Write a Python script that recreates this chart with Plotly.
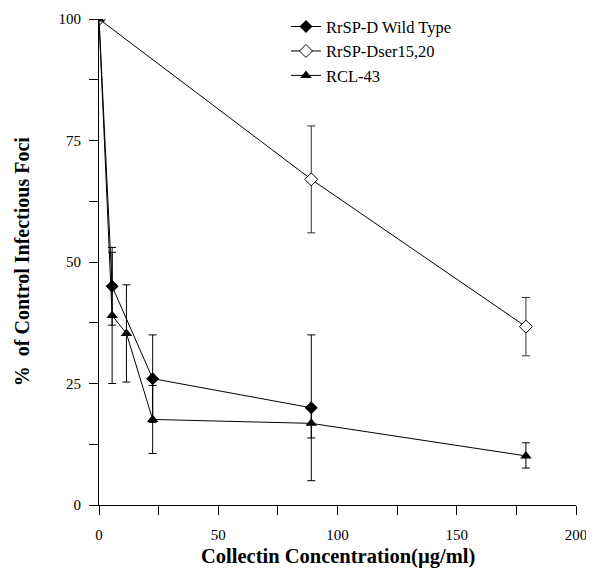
import plotly.graph_objects as go

# Data
wt_x = [0, 5.5, 22.5, 89]
wt_y = [100, 45, 26, 20]
wt_err = [0, 8, 9, 15]

ser_x = [0, 89, 179]
ser_y = [100, 67, 36.7]
ser_err = [0, 11, 6]

rcl_x = [0, 5.5, 11.5, 22.5, 89, 179]
rcl_y = [100, 39, 35.3, 17.6, 16.8, 10.1]
rcl_err_plus = [0, 13, 10, 7, 3, 2.7]
rcl_err_minus = [0, 14, 10, 7, 3, 2.5]

x_ticks = [0, 50, 100, 150, 200]
y_ticks = [0, 25, 50, 75, 100]

serif = "Liberation Serif, Times New Roman, Times, serif"

fig = go.Figure()
fig.add_trace(go.Scatter(
    x=wt_x, y=wt_y, name="RrSP-D Wild Type", mode="lines+markers",
    line=dict(color="black", width=1),
    marker=dict(symbol="diamond", size=10, color="black"),
    error_y=dict(type="data", array=wt_err, color="black", thickness=1, width=4),
))
fig.add_trace(go.Scatter(
    x=ser_x, y=ser_y, name="RrSP-Dser15,20", mode="lines+markers",
    line=dict(color="black", width=1),
    marker=dict(symbol="diamond", size=10, color="white", line=dict(color="black", width=1)),
    error_y=dict(type="data", array=ser_err, color="#333", thickness=1, width=4),
))
fig.add_trace(go.Scatter(
    x=rcl_x, y=rcl_y, name="RCL-43", mode="lines+markers",
    line=dict(color="black", width=1),
    marker=dict(symbol="triangle-up", size=10, color="black"),
    error_y=dict(type="data", array=rcl_err_plus, arrayminus=rcl_err_minus,
                 color="black", thickness=1, width=4),
))

fig.update_layout(
    width=586, height=566,
    margin=dict(l=91, r=18, t=11, b=69, autoexpand=False),
    paper_bgcolor="white", plot_bgcolor="white",
    font=dict(family=serif, color="black", size=14),
    showlegend=True,
    legend=dict(x=0.392, y=1.02, xanchor="left", yanchor="top",
                font=dict(family=serif, size=16.5, color="black"),
                bgcolor="rgba(0,0,0,0)", itemwidth=30, tracegroupgap=0),
    xaxis=dict(
        range=[0, 200], tickvals=x_ticks, ticktext=[str(v) for v in x_ticks],
        showline=True, linecolor="black", linewidth=1,
        ticks="outside", ticklen=9, tickcolor="black",
        minor=dict(dtick=25, ticks="outside", ticklen=9, tickcolor="black"),
        showgrid=False, zeroline=False, automargin=False,
        tickfont=dict(family=serif, size=15), ticklabelstandoff=7,
    ),
    yaxis=dict(
        range=[0, 100], tickvals=y_ticks, ticktext=[str(v) for v in y_ticks],
        showline=True, linecolor="black", linewidth=1,
        ticks="outside", ticklen=9, tickcolor="black",
        minor=dict(dtick=12.5, ticks="outside", ticklen=9, tickcolor="black"),
        showgrid=False, zeroline=False, automargin=False,
        tickfont=dict(family=serif, size=15), ticklabelstandoff=5,
    ),
    annotations=[
        dict(text="<b>Collectin Concentration(µg/ml)</b>", xref="paper", yref="paper",
             x=0.5, y=-0.078, xanchor="center", yanchor="top", showarrow=False,
             font=dict(family=serif, size=20.5, color="black")),
        dict(text="<b>%  of Control Infectious Foci</b>", xref="paper", yref="paper",
             x=-0.161, y=0.5, xanchor="center", yanchor="middle", showarrow=False,
             textangle=-90, font=dict(family=serif, size=20, color="black")),
    ],
)

fig.write_html("out.html")
